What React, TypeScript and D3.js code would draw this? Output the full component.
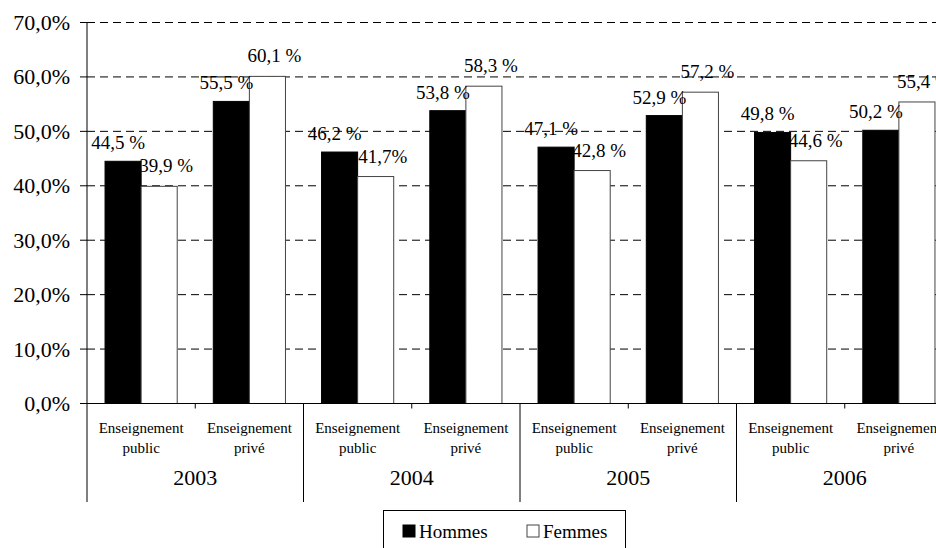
import React from 'react';
import * as d3 from 'd3';

const years = ['2003', '2004', '2005', '2006'];
const sectors = ['Enseignement public', 'Enseignement privé'];
const series = ['Hommes', 'Femmes'];

// values per (year, sector), in reading order
const hommes = [44.5, 55.5, 46.2, 53.8, 47.1, 52.9, 49.8, 50.2];
const femmes = [39.9, 60.1, 41.7, 58.3, 42.8, 57.2, 44.6, 55.4];
const hommesLabels = ['44,5 %', '55,5 %', '46,2 %', '53,8 %', '47,1 %', '52,9 %', '49,8 %', '50,2 %'];
const femmesLabels = ['39,9 %', '60,1 %', '41,7%', '58,3 %', '42,8 %', '57,2 %', '44,6 %', '55,4 %'];
const yTicks = [0, 10, 20, 30, 40, 50, 60, 70];

const FONT = "'Liberation Serif'";

const left = 87;
const right = 953;
const top = 22.5;
const bottom = 403.5;

const cells = years.flatMap(yr => sectors.map(s => `${yr}|${s}`));
const x = d3.scaleBand<string>().domain(cells).range([left, right]).padding(0);
const xYear = d3.scaleBand<string>().domain(years).range([left, right]).padding(0);
const xSeries = d3.scaleBand<string>()
  .domain(series)
  .range([0, x.bandwidth()])
  .paddingInner(0)
  .paddingOuter(0.5);
const y = d3.scaleLinear().domain([0, 70]).range([bottom, top]);
const legendX = d3.scalePoint<string>().domain(series).range([403, 527]);

const fmtTick = (v: number) => `${d3.format('.1f')(v).replace('.', ',')}%`;

export default function App() {
  const rows = cells.map((c, i) => ({
    cell: c,
    values: [hommes[i], femmes[i]],
    labels: [hommesLabels[i], femmesLabels[i]],
  }));

  return (
    <svg
      width={936}
      height={548}
      style={{ position: 'absolute', left: 0, top: 0, background: '#fff', fontFamily: FONT }}
    >
      {/* gridlines */}
      {yTicks.filter(t => t > 0).map(t => (
        <line key={t} x1={left} x2={right} y1={y(t)} y2={y(t)} stroke="#000" strokeDasharray="8,5" />
      ))}

      {/* bars + labels */}
      {rows.map(r => (
        <g key={r.cell} transform={`translate(${x(r.cell)},0)`}>
          {r.values.map((v, j) => (
            <rect
              key={series[j]}
              x={xSeries(series[j])}
              width={xSeries.bandwidth()}
              y={y(v)}
              height={y(0) - y(v)}
              fill={j === 0 ? '#000' : '#fff'}
              stroke={j === 0 ? '#000' : '#444'}
            />
          ))}
          {r.values.map((v, j) => (
            <text
              key={`l${j}`}
              x={xSeries(series[j])! + xSeries.bandwidth() / 2 + (j === 0 ? -5 : 7)}
              y={y(v) - (j === 0 ? 12 : 14)}
              textAnchor="middle"
              style={{ fontFamily: FONT, fontSize: '19px' }}
            >
              {r.labels[j]}
            </text>
          ))}
        </g>
      ))}

      {/* y axis */}
      <line x1={left} x2={left} y1={top} y2={502} stroke="#000" />
      {yTicks.map(t => (
        <g key={t}>
          <line x1={left - 7} x2={left} y1={y(t)} y2={y(t)} stroke="#000" />
          <text x={70} y={y(t)} dy="0.34em" textAnchor="end" style={{ fontFamily: FONT, fontSize: '22px' }}>
            {fmtTick(t)}
          </text>
        </g>
      ))}

      {/* x axis */}
      <line x1={left} x2={right} y1={bottom} y2={bottom} stroke="#000" />
      {years.slice(1).map(yr => (
        <line key={yr} x1={xYear(yr)} x2={xYear(yr)} y1={bottom} y2={502} stroke="#000" />
      ))}
      <line x1={right} x2={right} y1={bottom} y2={502} stroke="#000" />
      {years.map(yr => (
        <line
          key={`t${yr}`}
          x1={xYear(yr)! + xYear.bandwidth() / 2}
          x2={xYear(yr)! + xYear.bandwidth() / 2}
          y1={bottom}
          y2={bottom + 5}
          stroke="#000"
        />
      ))}
      {cells.map(c => {
        const [w1, w2] = c.split('|')[1].split(' ');
        const cx = x(c)! + x.bandwidth() / 2;
        return (
          <text key={c} textAnchor="middle" style={{ fontFamily: FONT, fontSize: '15px' }}>
            <tspan x={cx} y={433}>{w1}</tspan>
            <tspan x={cx} y={453}>{w2}</tspan>
          </text>
        );
      })}
      {years.map(yr => (
        <text
          key={`y${yr}`}
          x={xYear(yr)! + xYear.bandwidth() / 2}
          y={485}
          textAnchor="middle"
          style={{ fontFamily: FONT, fontSize: '22px' }}
        >
          {yr}
        </text>
      ))}

      {/* legend */}
      <rect x={383.5} y={510.5} width={242} height={60} fill="#fff" stroke="#000" />
      {series.map((s, j) => (
        <g key={s} transform={`translate(${legendX(s)},0)`}>
          <rect x={0} y={525} width={12} height={12} fill={j === 0 ? '#000' : '#fff'} stroke={j === 0 ? '#000' : '#444'} />
          <text x={16} y={538} style={{ fontFamily: FONT, fontSize: '19px' }}>{s}</text>
        </g>
      ))}
    </svg>
  );
}
